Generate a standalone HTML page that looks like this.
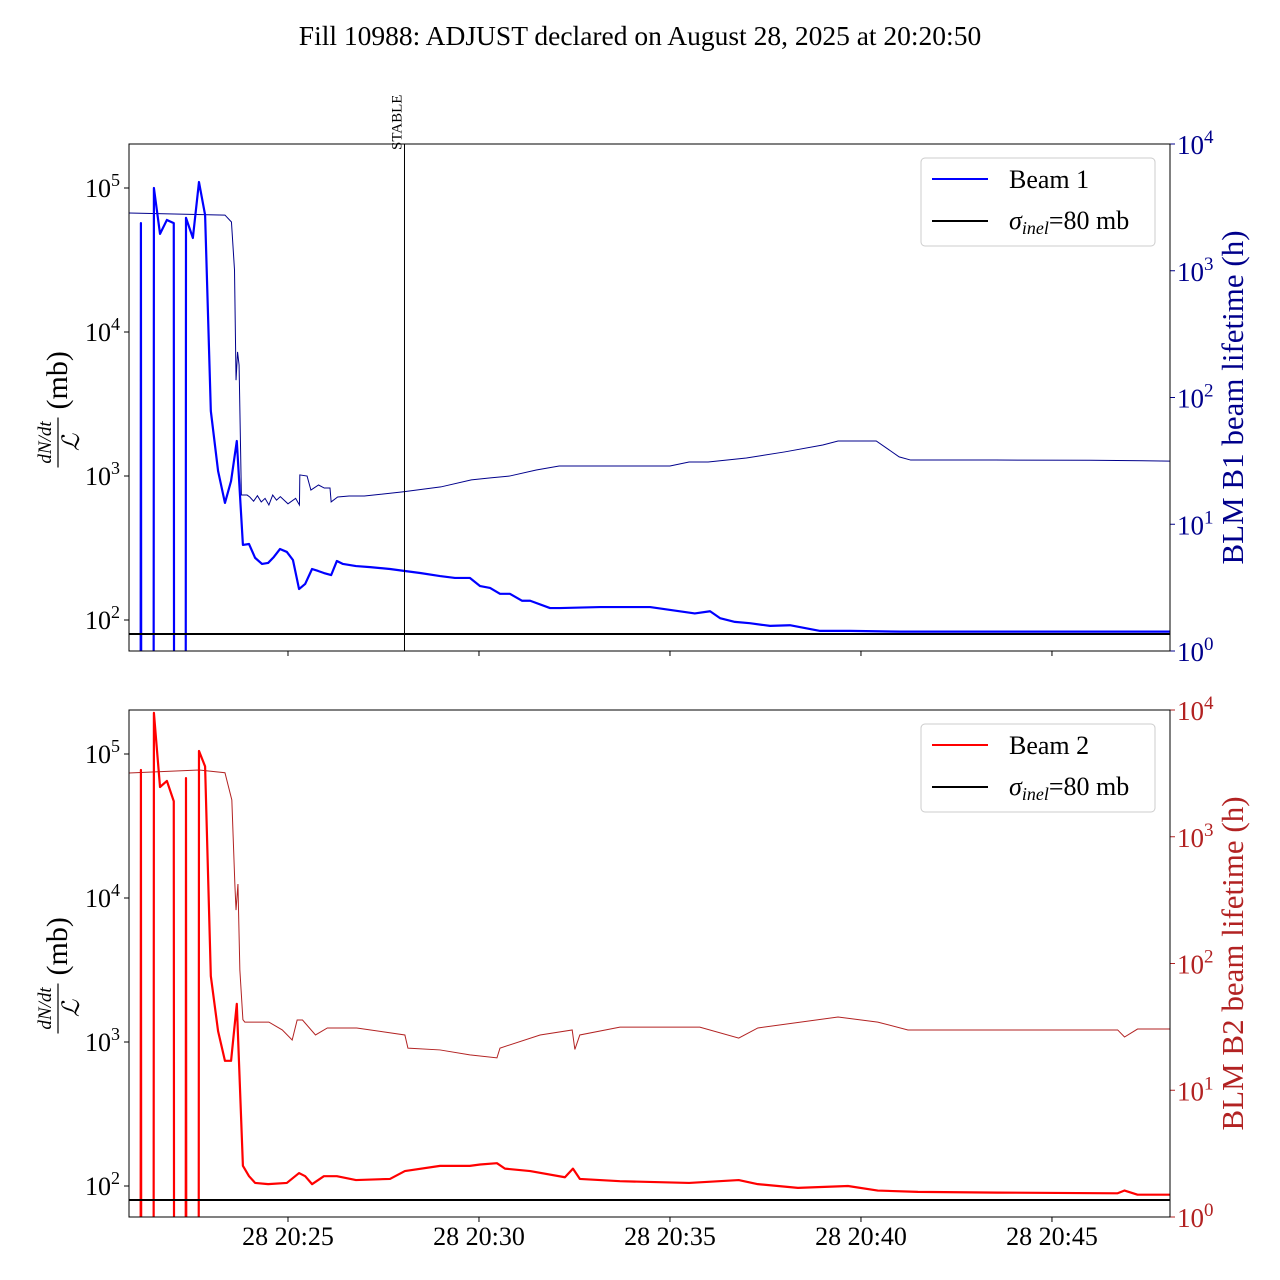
<!DOCTYPE html>
<html><head><meta charset="utf-8">
<style>
html,body{margin:0;padding:0;background:#fff;overflow:hidden;width:1280px;height:1280px;}
svg{font-family:"Liberation Serif",serif;display:block;}
</style></head>
<body>
<svg id="chart" width="1280" height="1280" xmlns="http://www.w3.org/2000/svg">
<rect width="1280" height="1280" fill="#fff"/>
<text x="640" y="45" font-size="27.5" text-anchor="middle">Fill 10988: ADJUST declared on August 28, 2025 at 20:20:50</text>
</svg>
<script>
// time in minutes after 20:20:00
const b1Times=[1.14,1.15,1.16,1.48,1.49,1.65,1.83,2.01,2.02,2.32,2.33,2.51,2.67,2.83,2.98,3.17,3.35,3.51,3.66,3.82,3.98,4.14,4.32,4.48,4.63,4.79,4.97,5.13,5.29,5.45,5.63,5.79,5.94,6.13,6.28,6.44,6.78,7.15,7.67,8.06,8.46,8.98,9.37,9.76,10.03,10.29,10.55,10.81,11.13,11.34,11.86,12.12,13.17,14.48,15.65,16.05,16.31,16.70,17.09,17.62,18.14,18.93,19.71,21.02,23.64,28.09];
const b1Values=[1,57000,1,1,100000,48000,60000,57000,1,1,62000,45000,110000,65000,2830,1083,650,923,1750,332,337,270,245,249,274,311,297,261,164,178,226,219,212,205,257,245,237,233,226,219,212,202,196,196,172,167,152,152,136,136,121,121,123,123,111,115,103,97,95,91,92,84,84,83,83,83];
const b1LifeTimes=[0.83,3.35,3.52,3.60,3.64,3.68,3.72,3.78,3.93,4.0,4.1,4.2,4.3,4.4,4.5,4.6,4.7,4.8,5.0,5.2,5.3,5.31,5.5,5.6,5.8,5.95,6.1,6.13,6.3,6.6,7.0,8.0,9.0,9.8,10.3,10.8,11.5,12.1,13.0,15.0,15.5,16.0,17.0,18.0,19.0,19.4,20.4,21.0,21.3,23.5,26.0,28.09];
const b1LifeValues=[2855,2750,2425,1014,137,229,180,17,17,16.4,15.2,16.8,15,16,14.2,17,15.5,16.5,14.5,16,14.2,24.5,24,18.6,20.4,19.3,19.3,15,16.4,16.7,16.7,18,19.7,22.4,23.2,24,26.8,28.8,28.8,28.8,31,31,33.3,37.2,42.2,45.4,45.4,34,32.1,32.1,32,31.5];
const b2Times=[1.14,1.15,1.16,1.48,1.49,1.65,1.83,2.01,2.02,2.32,2.33,2.34,2.66,2.67,2.83,2.98,3.17,3.35,3.51,3.66,3.82,3.98,4.14,4.48,4.97,5.29,5.45,5.63,5.94,6.28,6.78,7.67,8.06,8.98,9.76,10.03,10.47,10.68,11.34,12.25,12.46,12.64,13.69,15.5,16.8,17.3,18.35,19.66,20.44,21.49,23.58,26.72,26.9,27.24,28.09];
const b2Values=[1,77500,1,1,193000,59000,65000,47000,1,1,68000,1,1,105000,82000,2870,1190,740,740,1840,138,117,105,103,105,123,117,103,117,117,110,112,127,138,138,141,144,132,127,115,132,112,108,105,110,103,97,100,93,91,90,89,93,87,87];
const b2LifeTimes=[0.83,2.67,3.35,3.53,3.61,3.64,3.69,3.74,3.82,3.87,4.5,4.85,5.11,5.24,5.38,5.72,6.03,6.8,8.06,8.14,8.98,9.76,10.47,10.55,11.6,12.44,12.51,12.64,13.69,15.78,16.8,17.3,19.4,20.44,21.23,23.58,26.72,26.9,27.24,28.09];
const b2LifeValues=[3185,3365,3200,1950,416,264,424,89,36,34.5,34.5,29.9,24.9,35.8,35.8,27.3,31,31,27.3,21.5,20.8,19,18,21.5,27.3,29.9,21,27.3,31.5,31.5,25.8,31,37.8,34.5,29.9,29.9,29.9,26.3,30.4,30.4];
const xTickMins=[5,10,15,20,25];
const xTickLabels=["28 20:25","28 20:30","28 20:35","28 20:40","28 20:45"];
const stableMin=8.05;

const NS="http://www.w3.org/2000/svg";
const svg=document.getElementById('chart');
const X0=129,X1=1170,T0=0.838,T1=28.09;
const xs=t=>X0+(t-T0)/(T1-T0)*(X1-X0);
function el(tag,attrs,parent){const e=document.createElementNS(NS,tag);for(const k in attrs)e.setAttribute(k,attrs[k]);(parent||svg).appendChild(e);return e;}

function panel(top,bot,times,vals,ltimes,lvals,color,lifeColor,beamLabel,rightLabel,showX,pname){
  const g=el('g',{});
  
  
  const clipId='clip'+pname;
  const cp=el('clipPath',{id:clipId},g);el('rect',{x:X0,y:top,width:X1-X0,height:bot-top},cp);
  const yL=v=>(top+44)+(5-Math.log10(v))*144;
  const yR=v=>bot-Math.log10(v)*(bot-top)/4;
  for(let e=2;e<=5;e++){
    const y=yL(Math.pow(10,e));
    el('line',{x1:X0-5,x2:X0,y1:y,y2:y,stroke:'#000'},g);
    const t=el('text',{x:X0-9,y:y+9,'font-size':26,'text-anchor':'end'},g);
    
    
    t.innerHTML='10<tspan dy="-11" font-size="18">'+e+'</tspan>';
  }
  for(let e=0;e<=4;e++){
    const y=yR(Math.pow(10,e));
    el('line',{x1:X1,x2:X1+5,y1:y,y2:y,stroke:lifeColor},g);
    const t=el('text',{x:X1+7,y:y+10,'font-size':27,fill:lifeColor},g);
    
    
    t.innerHTML='10<tspan dy="-11" font-size="19">'+e+'</tspan>';
  }
  xTickMins.forEach((m,i)=>{
    const x=xs(m);
    el('line',{x1:x,x2:x,y1:bot,y2:bot+5,stroke:'#000'},g);
    if(showX){const t=el('text',{x:x,y:bot+28,'font-size':26,'text-anchor':'middle'},g);
      
      
      t.textContent=xTickLabels[i];}
  });
  const dg=el('g',{'clip-path':'url(#'+clipId+')'},g);
  const lp=el('polyline',{points:ltimes.map((t,i)=>xs(t)+','+yR(lvals[i])).join(' '),fill:'none',stroke:lifeColor,'stroke-width':1},dg);
  
  
  const bp=el('polyline',{points:times.map((t,i)=>xs(t)+','+yL(vals[i])).join(' '),fill:'none',stroke:color,'stroke-width':2.2,'stroke-linejoin':'round'},dg);
  
  
  const sl=el('line',{x1:X0,x2:X1,y1:yL(80),y2:yL(80),stroke:'#000','stroke-width':2},dg);
  
  
  el('rect',{x:X0,y:top,width:X1-X0,height:bot-top,fill:'none',stroke:'#000','stroke-width':1},g);
  const lg=el('g',{},g);
  
  
  el('rect',{x:921,y:top+14,width:234,height:88,rx:4,fill:'#fff',stroke:'#ccc'},lg);
  el('line',{x1:932,x2:988,y1:top+35,y2:top+35,stroke:color,'stroke-width':2},lg);
  const l1=el('text',{x:1009,y:top+44,'font-size':26},lg);l1.textContent=beamLabel;
  el('line',{x1:932,x2:988,y1:top+77,y2:top+77,stroke:'#000','stroke-width':2},lg);
  const l2=el('text',{x:1009,y:top+85,'font-size':26},lg);
  l2.innerHTML='<tspan font-style="italic">σ</tspan><tspan font-style="italic" font-size="18" dy="5">inel</tspan><tspan dy="-5">=80 mb</tspan>';
  const cy=(top+bot)/2;
  const ll=el('g',{transform:'translate(58,'+cy+') rotate(-90)'},g);
  
  
  const f1=el('text',{x:-45,y:-7,'font-size':19,'font-style':'italic','text-anchor':'middle'},ll);f1.textContent='dN/dt';
  el('line',{x1:-70,x2:-20,y1:0,y2:0,stroke:'#000','stroke-width':1.2},ll);
  const f2=el('text',{x:-45,y:21,'font-size':24,'font-style':'italic','text-anchor':'middle'},ll);f2.textContent='ℒ';
  const f3=el('text',{x:-12,y:9,'font-size':30},ll);f3.textContent='(mb)';
  const rl=el('text',{transform:'translate(1243,'+cy+') rotate(-90)','font-size':31,'text-anchor':'middle',fill:lifeColor},g);
  
  
  rl.textContent=rightLabel;
}
panel(144,651,b1Times,b1Values,b1LifeTimes,b1LifeValues,'#0000ff','#00008b','Beam 1','BLM B1 beam lifetime (h)',false,'beam1-panel');
panel(710,1217,b2Times,b2Values,b2LifeTimes,b2LifeValues,'#ff0000','#b22222','Beam 2','BLM B2 beam lifetime (h)',true,'beam2-panel');
const sx=xs(stableMin);
const sline=el('line',{x1:sx,x2:sx,y1:144,y2:651,stroke:'#000','stroke-width':1});


const st=el('text',{transform:'translate('+(sx-3)+',150) rotate(-90)','font-size':15});


st.textContent='STABLE';
</script>
</body></html>
